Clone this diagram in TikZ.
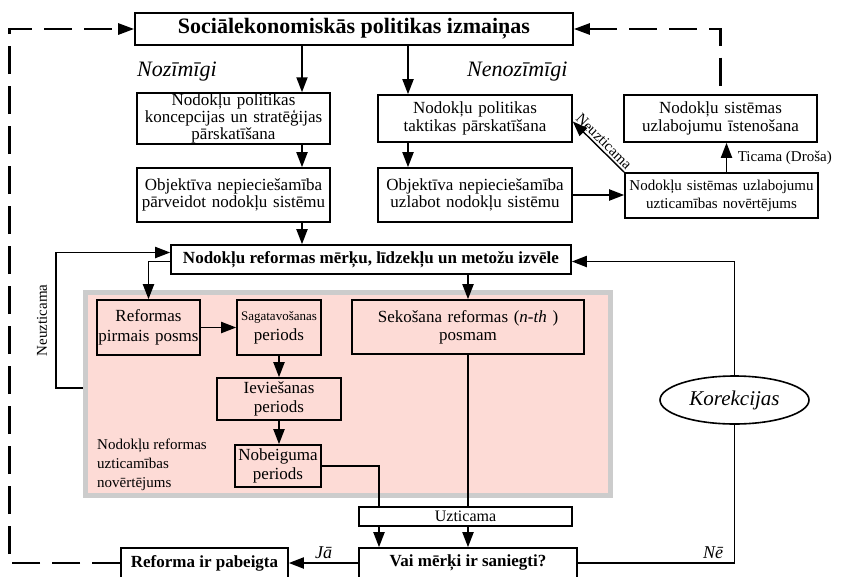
\documentclass[tikz,border=0pt]{standalone}
\usepackage{fontspec}
\setmainfont{Liberation Serif}
\usetikzlibrary{shapes.geometric,arrows.meta,positioning}
\definecolor{regionpink}{RGB}{253,219,214}
\definecolor{regiongray}{RGB}{204,204,204}
\newcommand{\setfs}[2]{\fontsize{#1}{#2}\selectfont}
\tikzset{%
box/.style={draw, line width=1.6pt, align=center, inner sep=1pt, font=\setfs{17}{17.5}},
boldbox/.style={box, font=\setfs{17}{17.5}\bfseries},
pt/.style={draw, line width=1.9pt, -{Triangle[length=15pt,width=11pt]}},
ln/.style={draw, line width=1.9pt},
dsh/.style={draw, line width=2.6pt, dash pattern=on 28pt off 12pt}
}

\begin{document}
\begin{tikzpicture}[x=1pt, y=-1pt]
		\useasboundingbox (0,0) rectangle (850,576);
		\coordinate (colL) at (302,0);
		\coordinate (colR) at (408,0);
		\coordinate (colM) at (379,0);

		\node[boldbox, font=\setfs{22}{22}\bfseries, minimum width=438pt, minimum height=32pt] (top) at (354,29) {Sociālekonomiskās politikas izmaiņas};
		\node[font=\setfs{22}{22}\itshape, anchor=west, inner sep=0pt] (sig) at (137,72) {Nozīmīgi};
		\node[font=\setfs{22}{22}\itshape, anchor=west, inner sep=0pt] (insig) at (467,72) {Nenozīmīgi};

		\node[box, font=\setfs{17}{13}, text width=191pt, minimum height=47pt] (A) at (233.5,118.5) {Nodokļu politikas\\ koncepcijas un stratēģijas\\ pārskatīšana};
		\node[box, text width=191pt, minimum height=54pt, below of=A, node distance=76.5pt] (B) {Objektīva nepieciešamība\\ pārveidot nodokļu sistēmu};
		\node[box, text width=192pt, minimum height=47pt, right of=A, node distance=241.5pt] (C) {Nodokļu politikas\\ taktikas pārskatīšana};
		\node[box, text width=192pt, minimum height=54pt, right of=B, node distance=241.5pt] (D) {Objektīva nepieciešamība\\ uzlabot nodokļu sistēmu};
		\node[box, text width=191pt, minimum height=47pt] (E) at (720.5,118.5) {Nodokļu sistēmas\\ uzlabojumu īstenošana};
		\node[box, font=\setfs{15}{18}, text width=191pt, minimum height=45pt] (F) at (721.5,195.5) {Nodokļu sistēmas uzlabojumu\\ uzticamības novērtējums};

		\node[boldbox, minimum width=400pt, minimum height=29pt] (G) at (371,259.5) {Nodokļu reformas mērķu, līdzekļu un metožu izvēle};

		% reform stages
		\node[draw=regiongray, fill=regionpink, line width=5pt, minimum width=525pt, minimum height=203pt] (region) at (348,394) {};
		\node[box, font=\setfs{17}{20}, text width=101pt, minimum height=55pt] (H) at (148.5,327.5) {Reformas\\ pirmais posms};
		\node[box, font=\setfs{17}{20}, text width=82pt, minimum height=55pt] (I) at (279,327.5) {{\setfs{13}{15}Sagatavošanas}\\ periods};
		\node[box, font=\setfs{17}{19}, text width=122pt, minimum height=42pt] (J) at (279,399) {Ieviešanas\\ periods};
		\node[box, font=\setfs{17}{19}, text width=84pt, minimum height=42pt] (K) at (278,466) {Nobeiguma\\ periods};
		\node[box, font=\setfs{17}{18}, text width=230pt, minimum height=54pt] (L) at (468,327) {Sekošana reformas (\textit{n-th} )\\ posmam};
		\node[font=\setfs{15}{19}, align=left, anchor=north west, inner sep=0pt] (rlabel) at (97,439) {Nodokļu reformas\\ uzticamības\\ novērtējums};

		\node[box, font=\setfs{16}{16}, minimum width=213pt, minimum height=19pt, inner sep=0pt] (M) at (465.5,516.5) {Uzticama};
		\node[boldbox, minimum width=218pt, minimum height=30pt] (N) at (468,563) {Vai mērķi ir saniegti?};
		\node[boldbox, minimum width=167pt, minimum height=30pt] (O) at (204.5,563) {Reforma ir pabeigta};
		\node[ellipse, draw, line width=1.6pt, font=\setfs{21}{21}\itshape, minimum width=149pt, minimum height=48pt, inner sep=0pt] (kor) at (734.5,400) {Korekcijas};

		\path[pt] (colL |- top.south) -- (colL |- A.north);
		\path[pt] (colL |- A.south) -- (colL |- B.north);
		\path[pt] (colL |- B.south) -- (colL |- G.north);
		\path[pt] (colR |- top.south) -- (colR |- C.north);
		\path[pt] (colR |- C.south) -- (colR |- D.north);
		\path[pt] (D.east) -- (D.east -| F.west);
		\path[pt] ([xshift=5pt]F.north) -- node[right, xshift=7pt, font=\setfs{15}{15}] {Ticama (Droša)} ([xshift=5pt]F.north |- E.south);
		\path[pt, line width=1.4pt] (F.north west) -- node[sloped, above, inner sep=2pt, font=\setfs{15}{15}] {Neuzticama} ([yshift=-3pt]C.east);

		\path[dsh, {Triangle[length=16pt,width=11pt]}-] (top.east) -| (E.north);
		\path[dsh, -{Triangle[length=16pt,width=11pt]}] (O.west) -- ++(-111,0) |- (top.west);

		\path[pt] ([yshift=-2pt]G.west) -| (H.north);
		\path[pt] ([yshift=6pt]region.west) -- ++(-27,0) |- node[pos=0.25, rotate=90, anchor=south, inner sep=8pt, font=\setfs{15}{15}] {Neuzticama} ([yshift=7pt]G.west);
		\path[pt] (L.north |- G.south) -- (L.north);
		\path[pt] (H.east) -- (I.west);
		\path[pt] (I.south) -- (J.north);
		\path[pt] (J.south) -- (J.south |- K.north);

		\path[ln] (K.east) -| (colM |- M.north);
		\path[ln] (L.south) -- (L.south |- M.north);
		\path[pt] (colM |- M.south) -- (colM |- N.north);
		\path[pt] (L.south |- M.south) -- (L.south |- N.north);

		\path[pt] (N.west) -- node[above, font=\setfs{18}{18}\itshape] {Jā} (O.east);
		\path[ln] (N.east) -| node[pos=0.5, above left, xshift=-7pt, font=\setfs{18}{18}\itshape] {Nē} (kor.south);
		\path[pt] (kor.north) |- ([yshift=-2pt]G.east);
	\end{tikzpicture}
\end{document}
